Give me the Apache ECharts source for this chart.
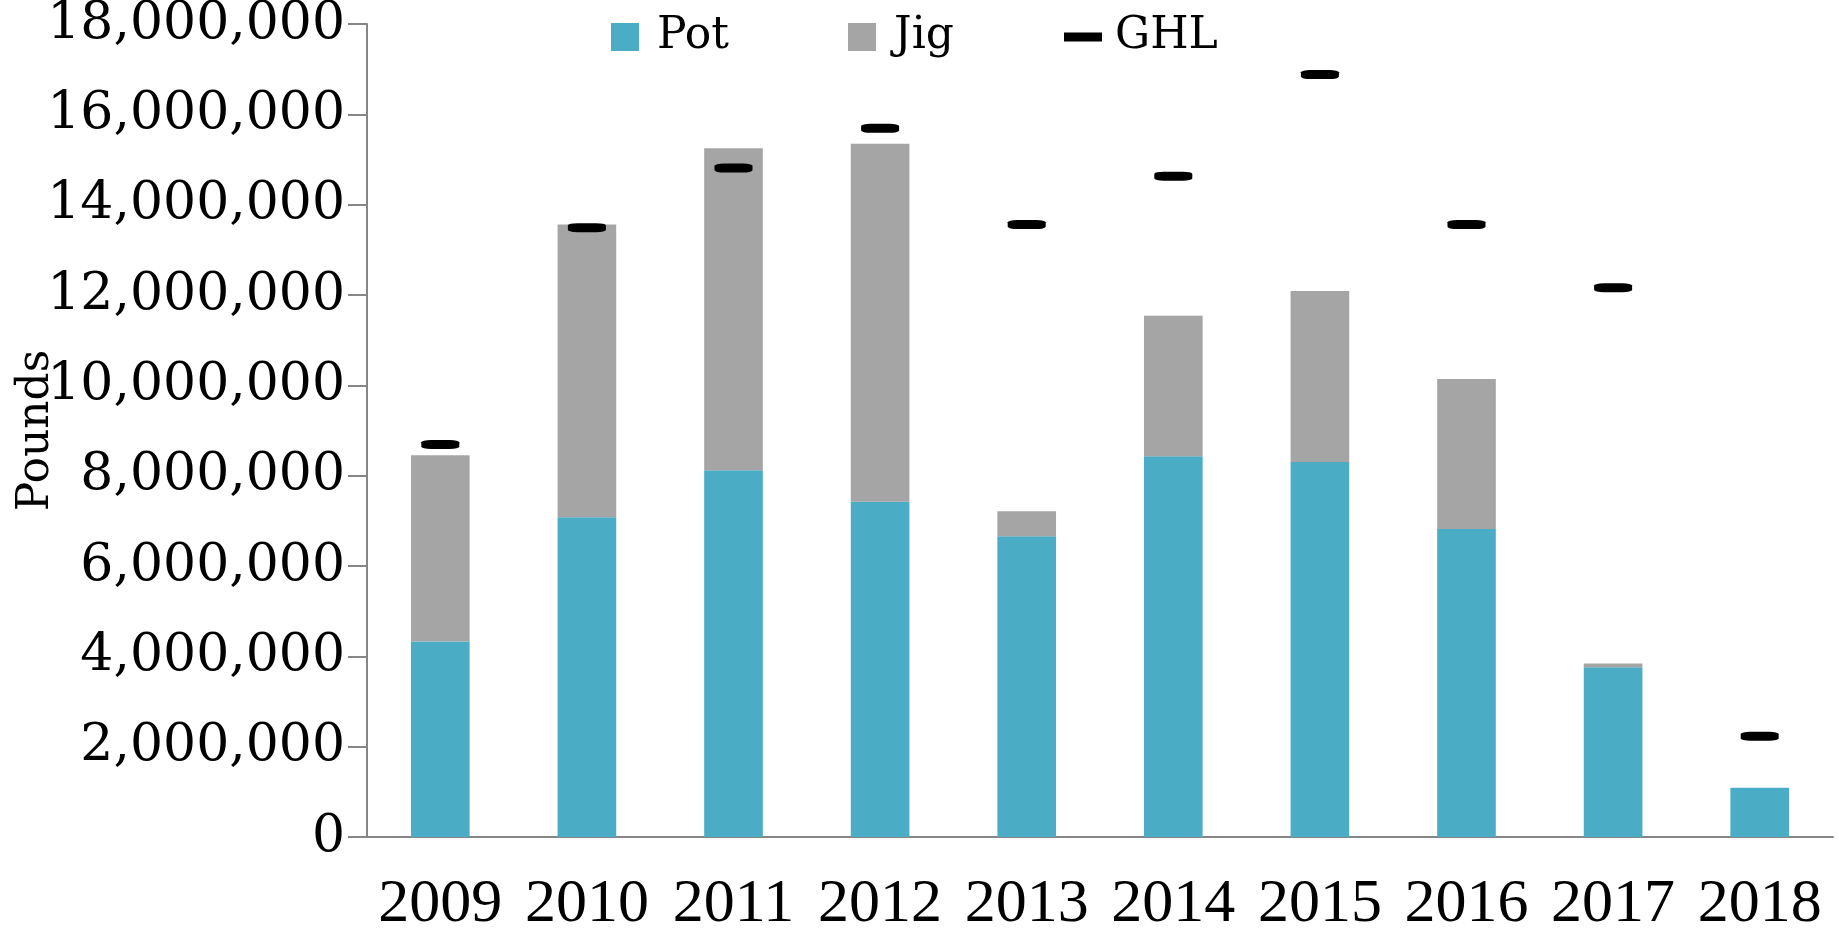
<!DOCTYPE html>
<html>
<head>
<meta charset="utf-8">
<script src="https://cdn.jsdelivr.net/npm/echarts@6/dist/echarts.min.js"></script>
<style>
  html, body { margin: 0; padding: 0; background: #fff; }
  #chart { width: 1839px; height: 937px; }
</style>
</head>
<body>
<div id="chart"></div>
<script>
const years = ['2009', '2010', '2011', '2012', '2013', '2014', '2015', '2016', '2017', '2018']
const pot = [4330000, 7080000, 8120000, 7420000, 6660000, 8430000, 8300000, 6820000, 3760000, 1090000]
const jig = [4120000, 6480000, 7130000, 7930000, 550000, 3110000, 3790000, 3320000, 80000, 0]
const ghl = [8690000, 13490000, 14810000, 15690000, 13560000, 14630000, 16880000, 13560000, 12160000, 2230000]

const font = 'DejaVu Serif'
const axisGrey = '#868686'

// one legend per entry so each sits where the original puts it
function legendAt(left, name, icon) {
  return {
    left: left,
    top: 10,
    itemWidth: 38,
    itemHeight: 28,
    textStyle: {
      fontFamily: font,
      fontSize: 44,
      color: '#000',
      padding: [0, 0, 0, 8]
    },
    data: [{ name: name, icon: icon }]
  }
}

const myChart = echarts.init(document.getElementById('chart'))
myChart.setOption({
  animation: false,
  textStyle: {
    fontFamily: font,
    color: '#000'
  },
  grid: {
    left: 367,
    right: 6,
    top: 24,
    bottom: 100,
    containLabel: false,
    outerBoundsMode: 'none'
  },
  legend: [
    legendAt(606, 'Pot', 'path://M0,0H10V10H0Z'),
    legendAt(843, 'Jig', 'path://M0,0H10V10H0Z'),
    legendAt(1059, 'GHL', 'path://M0,0H38V9H0Z')
  ],
  xAxis: {
    type: 'category',
    data: years,
    axisLine: { lineStyle: { color: axisGrey, width: 2 } },
    axisTick: { length: 19, interval: 0, lineStyle: { color: axisGrey, width: 2 } },
    axisLabel: {
      interval: 0,
      fontFamily: 'Liberation Serif',
      fontSize: 62,
      color: '#000',
      margin: 37
    }
  },
  yAxis: {
    type: 'value',
    min: 0,
    max: 18000000,
    interval: 2000000,
    name: 'Pounds',
    nameLocation: 'middle',
    nameRotate: 90,
    nameGap: 308,
    nameMoveOverlap: false,
    nameTextStyle: {
      fontFamily: font,
      fontSize: 44,
      color: '#000'
    },
    splitLine: { show: false },
    axisLine: { show: true, lineStyle: { color: axisGrey, width: 2 } },
    axisTick: { show: true, length: 19, lineStyle: { color: axisGrey, width: 2 } },
    axisLabel: {
      fontFamily: font,
      fontSize: 52,
      color: '#000',
      margin: 22,
      formatter: v => v.toLocaleString('en-US')
    }
  },
  series: [
    {
      name: 'Pot',
      type: 'bar',
      stack: 'catch',
      barWidth: '40%',
      itemStyle: { color: '#4BACC6' },
      data: pot
    },
    {
      name: 'Jig',
      type: 'bar',
      stack: 'catch',
      barWidth: '40%',
      itemStyle: { color: '#A5A5A5' },
      data: jig
    },
    {
      name: 'GHL',
      type: 'scatter',
      symbol: 'roundRect',
      symbolSize: [38, 9],
      itemStyle: { color: '#000', opacity: 1 },
      z: 5,
      data: ghl
    }
  ]
})
</script>
</body>
</html>
